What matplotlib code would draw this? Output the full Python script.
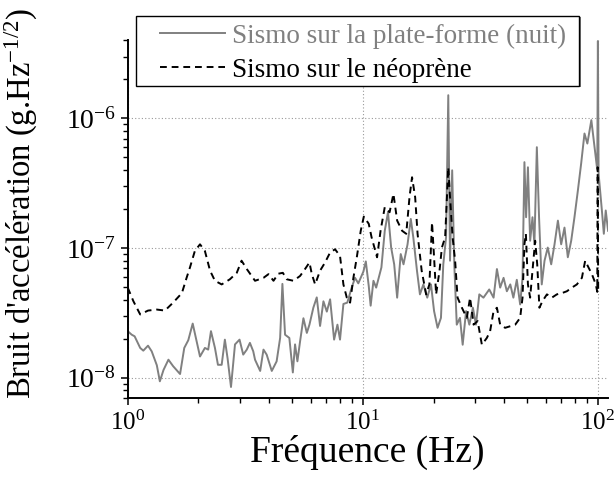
import matplotlib
matplotlib.use("Agg")
import matplotlib.pyplot as plt
from matplotlib.patches import Rectangle
from matplotlib.ticker import LogLocator

# Données (fréquence en Hz, bruit en g/sqrt(Hz))
freq_plateforme = [1.00, 1.04, 1.07, 1.13, 1.165, 1.22, 1.265, 1.33, 1.37, 1.42,
                   1.49, 1.56, 1.67, 1.74, 1.81, 1.89, 1.95, 2.03, 2.13, 2.20,
                   2.26, 2.35, 2.42, 2.51, 2.59, 2.66, 2.75, 2.86, 2.99, 3.10,
                   3.21, 3.31, 3.42, 3.48, 3.66, 3.78, 3.90, 4.10, 4.30, 4.45,
                   4.55, 4.67, 4.87, 5.04, 5.15, 5.27, 5.41, 5.59, 5.78, 5.93,
                   6.16, 6.37, 6.58, 6.80, 7.03, 7.26, 7.55, 7.80, 8.00, 8.27,
                   8.59, 8.97, 9.27, 9.57, 10.06, 10.3, 10.6, 10.8, 11.1, 11.4,
                   12.0, 12.4, 12.8, 13.2, 13.6, 14.0, 14.5, 14.9, 15.5, 16.0,
                   16.4, 17.0, 17.5, 18.1, 18.8, 19.5, 20.1, 20.8, 21.5, 22.0,
                   22.6, 23.1, 23.5, 24.0, 24.5, 25.1, 25.9, 26.6, 27.5, 28.4,
                   29.4, 30.3, 31.3, 32.6, 34.5, 36.0, 37.2, 38.4, 39.7, 41.0,
                   42.4, 43.7, 45.2, 46.7, 47.8, 48.7, 49.5, 50.4, 51.5, 52.7,
                   53.7, 55.0, 56.2, 57.7, 59.3, 61.2, 63.3, 65.4, 67.6, 69.8,
                   72.1, 74.5, 77.0, 79.5, 82.2, 84.9, 87.7, 90.2, 93.8, 96.8,
                   99.4, 100.0, 100.7, 104.0, 106.0, 108.0, 110.5]
bruit_plateforme = [2.29e-8, 2.15e-8, 2.09e-8, 1.70e-8, 1.62e-8, 1.77e-8, 1.60e-8, 1.25e-8, 9.4e-9, 1.15e-8,
                    1.38e-8, 1.23e-8, 1.07e-8, 1.70e-8, 1.95e-8, 2.62e-8, 2.03e-8, 1.46e-8, 1.70e-8, 1.65e-8,
                    2.29e-8, 1.70e-8, 1.26e-8, 1.26e-8, 1.97e-8, 1.41e-8, 8.5e-9, 1.81e-8, 1.97e-8, 1.51e-8,
                    1.65e-8, 1.86e-8, 1.60e-8, 1.38e-8, 1.13e-8, 1.65e-8, 1.51e-8, 1.13e-8, 1.34e-8, 2.03e-8,
                    5.3e-8, 2.15e-8, 2.03e-8, 1.10e-8, 1.81e-8, 1.34e-8, 1.91e-8, 2.88e-8, 2.22e-8, 2.57e-8,
                    3.47e-8, 4.17e-8, 2.51e-8, 3.89e-8, 3.24e-8, 4.03e-8, 1.97e-8, 2.57e-8, 1.97e-8, 3.71e-8,
                    3.80e-8, 4.96e-8, 5.9e-8, 5.35e-8, 6.6e-8, 7.9e-8, 5.1e-8, 3.6e-8, 5.6e-8, 4.96e-8,
                    7.1e-8, 1.36e-7, 1.89e-7, 1.01e-7, 7.5e-8, 4.15e-8, 9.0e-8, 7.5e-8, 1.07e-7, 1.68e-7,
                    1.21e-7, 6.7e-8, 4.4e-8, 5.25e-8, 4.15e-8, 5.25e-8, 3.27e-8, 2.43e-8, 2.9e-8, 7.5e-8,
                    1.21e-7, 1.51e-6, 8.0e-8, 3.98e-7, 7.5e-8, 2.57e-8, 2.9e-8, 1.80e-8, 3.27e-8, 2.57e-8,
                    3.47e-8, 2.57e-8, 4.4e-8, 4.15e-8, 4.8e-8, 4.15e-8, 6.9e-8, 4.96e-8, 5.9e-8, 4.65e-8,
                    5.25e-8, 4.15e-8, 5.7e-8, 3.68e-8, 5.9e-8, 4.6e-7, 1.73e-7, 4.2e-7, 1.14e-7, 1.73e-7,
                    1.07e-7, 6.0e-7, 1.73e-7, 5.25e-8, 8.0e-8, 1.01e-7, 7.5e-8, 1.07e-7, 1.63e-7, 1.07e-7,
                    1.44e-7, 8.5e-8, 1.14e-7, 1.73e-7, 2.78e-7, 4.5e-7, 7.65e-7, 6.4e-7, 9.7e-7, 6.0e-7,
                    4.0e-7, 3.95e-6, 3.75e-7, 1.95e-7, 1.29e-7, 1.95e-7, 1.36e-7]

freq_neoprene = [1.00, 1.057, 1.13, 1.22, 1.33, 1.44, 1.56, 1.70, 1.78, 1.84,
                 1.93, 2.03, 2.13, 2.24, 2.35, 2.51, 2.72, 2.91, 3.05, 3.21,
                 3.48, 3.78, 3.97, 4.17, 4.37, 4.57, 4.75, 5.07, 5.41, 5.68,
                 5.93, 6.07, 6.27, 6.58, 6.91, 7.26, 7.62, 8.00, 8.27, 8.55,
                 8.83, 9.12, 9.43, 9.80, 10.1, 10.6, 10.9, 11.5, 11.9, 12.4,
                 13.0, 13.5, 14.0, 14.7, 15.3, 15.8, 16.2, 16.7, 17.1, 17.8,
                 18.6, 19.2, 19.7, 20.1, 20.5, 21.2, 21.7, 22.4, 23.1, 23.5,
                 24.1, 24.7, 25.3, 26.4, 27.7, 28.6, 29.6, 30.8, 32.1, 33.7,
                 34.8, 36.0, 37.2, 38.4, 40.3, 42.4, 44.5, 46.7, 47.8, 48.7,
                 49.4, 50.4, 51.5, 52.7, 54.1, 55.2, 56.4, 58.1, 60.7, 63.7,
                 66.9, 70.3, 73.8, 77.5, 81.4, 85.5, 88.3, 91.2, 94.3, 98.0,
                 99.4, 99.8, 100.3]
bruit_neoprene = [4.96e-8, 3.9e-8, 3.08e-8, 3.3e-8, 3.36e-8, 3.3e-8, 3.8e-8, 4.5e-8, 5.9e-8, 7.1e-8,
                  9.5e-8, 1.07e-7, 9.5e-8, 6.7e-8, 5.6e-8, 5.25e-8, 5.75e-8, 6.45e-8, 8.0e-8, 6.9e-8,
                  5.6e-8, 5.9e-8, 6.3e-8, 5.6e-8, 6.35e-8, 6.45e-8, 5.75e-8, 5.6e-8, 6.1e-8, 6.9e-8,
                  7.75e-8, 6.3e-8, 5.25e-8, 6.7e-8, 7.75e-8, 9.25e-8, 9.8e-8, 8.7e-8, 5.25e-8, 4.15e-8,
                  3.8e-8, 5.9e-8, 8.5e-8, 1.36e-7, 1.75e-7, 1.54e-7, 1.21e-7, 8.5e-8, 1.36e-7, 2.07e-7,
                  1.89e-7, 2.62e-7, 1.63e-7, 1.36e-7, 1.29e-7, 2.47e-7, 3.52e-7, 2.47e-7, 1.29e-7, 6.7e-8,
                  4.4e-8, 5.25e-8, 1.58e-7, 8.5e-8, 4.4e-8, 6.7e-8, 1.01e-7, 1.21e-7, 4.2e-7, 2.47e-7,
                  1.21e-7, 8.0e-8, 4.15e-8, 3.47e-8, 2.9e-8, 4.15e-8, 2.57e-8, 2.74e-8, 1.80e-8, 2.03e-8,
                  2.29e-8, 3.27e-8, 3.47e-8, 2.57e-8, 2.43e-8, 2.5e-8, 2.57e-8, 2.9e-8, 4.15e-8, 1.07e-7,
                  1.29e-7, 5.25e-8, 4.15e-8, 6.7e-8, 1.14e-7, 7.5e-8, 3.47e-8, 3.9e-8, 4.4e-8, 4.15e-8,
                  4.4e-8, 4.5e-8, 4.65e-8, 4.96e-8, 5.25e-8, 5.9e-8, 8.0e-8, 7.1e-8, 6.3e-8, 5.25e-8,
                  4.6e-8, 4.2e-7, 4.6e-8]

plt.rcParams['font.family'] = ['Liberation Serif', 'DejaVu Serif']
plt.rcParams['mathtext.fontset'] = 'custom'
plt.rcParams['mathtext.rm'] = 'Liberation Serif'
plt.rcParams['mathtext.it'] = 'Liberation Serif:italic'
plt.rcParams['axes.unicode_minus'] = False

fig = plt.figure(figsize=(6.14, 4.8), dpi=100)
ax = fig.add_axes([0.208, 0.171, 0.7816, 0.745])

ax.plot(freq_plateforme, bruit_plateforme, color='#808080', lw=1.4,
        label='Sismo sur la plate-forme (nuit)')
ax.plot(freq_neoprene, bruit_neoprene, color='black', lw=1.4, ls=(0, (3.5, 2.5)),
        label='Sismo sur le néoprène')

ax.set_xscale('log')
ax.set_yscale('log')
ax.set_xlim(1, 110)
ax.set_ylim(7.0e-9, 4.0e-6)

ax.spines['top'].set_visible(False)
ax.spines['right'].set_visible(False)
ax.spines['left'].set_linewidth(1.4)
ax.spines['bottom'].set_linewidth(1.4)

ax.xaxis.set_major_locator(LogLocator(base=10))
ax.yaxis.set_major_locator(LogLocator(base=10))
ax.tick_params(which='major', direction='out', length=5, width=1.1)
ax.tick_params(which='minor', direction='out', length=3.6, width=1.0)
ax.tick_params(axis='x', labelsize=18, pad=4)
ax.tick_params(axis='y', labelsize=20, pad=3.5)

ax.grid(True, which='major', color='#999999', ls=(0, (1, 2)), lw=0.8)

ax.set_xlabel('Fréquence (Hz)', fontsize=27, labelpad=0)
ax.set_ylabel("Bruit d'accélération (g.Hz$^{-1/2}$)", fontsize=23.5)
ax.yaxis.set_label_coords(-0.183, 0.543)

# cadre de la légende (avec petite ombre)
fig.patches.append(Rectangle((0.2232, 0.8178), 0.7223, 0.1458, transform=fig.transFigure,
                             facecolor='#777777', edgecolor='none', zorder=4))
fig.patches.append(Rectangle((0.2207, 0.8208), 0.7223, 0.1458, transform=fig.transFigure,
                             facecolor='white', edgecolor='black', lw=1.0, zorder=5))
leg = fig.legend(loc='upper left', bbox_to_anchor=(0.2606, 0.951), fontsize=19.5,
                 frameon=False, handlelength=2.4, handletextpad=0.25,
                 labelspacing=0.33, borderpad=0, borderaxespad=0)
leg.set_zorder(6)
leg.get_texts()[0].set_color('#808080')

fig.savefig('out.png', dpi=100)
